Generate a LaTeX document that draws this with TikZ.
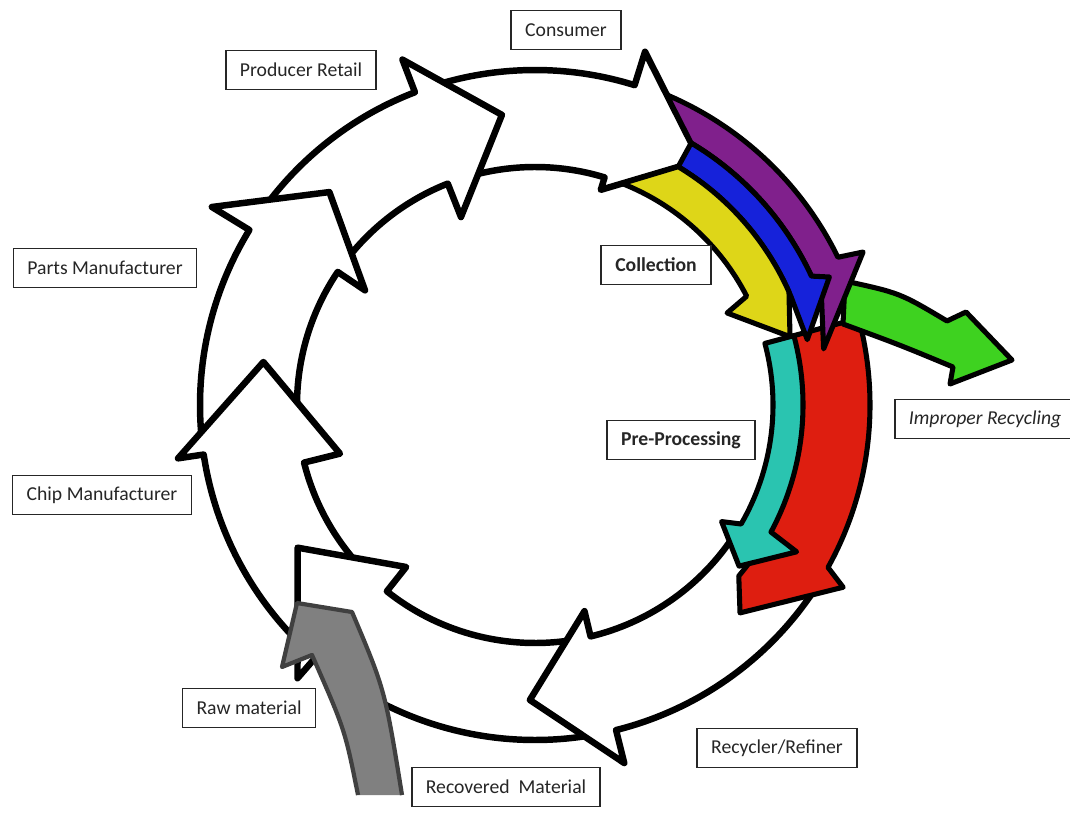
\documentclass[tikz,border=0pt]{standalone}
\usepackage{fontspec}
\setmainfont{Carlito}

\definecolor{collectpurple}{RGB}{128,32,140}
\definecolor{collectblue}{RGB}{22,34,218}
\definecolor{collectyellow}{RGB}{222,214,24}
\definecolor{refinered}{RGB}{222,30,16}
\definecolor{preteal}{RGB}{42,196,176}
\definecolor{impropergreen}{RGB}{62,210,32}

\tikzset{
  labelbox/.style={draw=black!85, line width=1.1pt, fill=white, text=black!85,
    inner xsep=10pt, minimum height=28pt, font=\fontsize{14}{16}\selectfont},
  ringline/.style={draw=black, line width=4.6pt, line join=round},
  paintarrow/.style={draw=black, line width=3.6pt, line join=round},
}

\begin{document}
\begin{tikzpicture}[x=0.025cm, y=-0.025cm]

  % Page frame
  \useasboundingbox (0,0) rectangle (1070,814);

  % Ring radii
  \def\Ro{335}
  \def\Ri{238}

  \begin{scope}[shift={(535,405)}]
    % White cycle arrows:
    % tail outer / tail inner / head base outer / head base inner / tip angle /
    % head outer r / head inner r / tip r
    \def\cyclearrows{30/35/76/76.5/91/369/212/295,
      81.5/82.5/131/128.5/149/362/207/277,
      135.2/140.2/171.5/166/189/361/201/275,
      175.3/180.7/211.5/214/226/379/205/296,
      217.8/219.6/249/248.5/263.5/370/202/292,
      254.2/256.2/287.3/287/304/370/225/295}
    \foreach \ta/\tb/\hbo/\hbi/\tp/\ho/\hn/\tr in \cyclearrows
      \fill[white] (\ta:\Ro) arc[start angle=\ta, end angle=\hbo, radius=\Ro]
        -- (\hbo:\ho) -- (\tp:\tr) -- (\hbi:\hn) -- (\hbi:\Ri)
        arc[start angle=\hbi, end angle=\tb, radius=\Ri] -- cycle;
    \foreach \ta/\tb/\hbo/\hbi/\tp/\ho/\hn/\tr in \cyclearrows
      \draw[ringline] (\ta:\Ro) arc[start angle=\ta, end angle=\hbo, radius=\Ro]
        -- (\hbo:\ho) -- (\tp:\tr) -- (\hbi:\hn) -- (\hbi:\Ri)
        arc[start angle=\hbi, end angle=\tb, radius=\Ri];

    % Refining (red) and pre-processing (teal)
    \draw[paintarrow, fill=refinered] (345:\Ro) arc[start angle=345, end angle=389, radius=\Ro]
      -- (390.6:358) -- (405.4:292) -- (400:266)
      arc[start angle=400, end angle=345, radius=266] -- cycle;
    \draw[paintarrow, fill=preteal] (345:268) arc[start angle=345, end angle=388.3, radius=268]
      -- (389.3:300) -- (398.3:260) -- (392:220) -- (390:\Ri)
      arc[start angle=390, end angle=345, radius=\Ri] -- cycle;
  \end{scope}

  % Improper recycling (green)
  \draw[paintarrow, fill=impropergreen] (845,281) .. controls (900,293) .. (947,321)
    -- (966,312) -- (1012,360) -- (950,384) -- (953,367)
    .. controls (900,345) .. (843,324) -- cycle;

  \begin{scope}[shift={(535,405)}]
    % Collection streams
    \draw[paintarrow, fill=collectpurple] (293:337) arc[start angle=293, end angle=334, radius=337]
      -- (335:362) -- (349:294) -- (340:305)
      arc[start angle=340, end angle=300.8, radius=305] -- cycle;
    \draw[paintarrow, fill=collectblue] (300.8:305) arc[start angle=300.8, end angle=335, radius=305]
      -- (336.5:321) -- (346.5:280) -- (337:278)
      arc[start angle=337, end angle=301, radius=278] -- cycle;
    \draw[paintarrow, fill=collectyellow] (301:278) arc[start angle=301, end angle=336, radius=278]
      -- (345:264) -- (334.4:213) -- (332.8:\Ri)
      arc[start angle=332.8, end angle=291.5, radius=\Ri] -- cycle;
  \end{scope}

  % Raw material feed (grey)
  \fill[black!50] (358,795) .. controls (345,730) .. (312,655) -- (282,667) -- (297,603)
    -- (352,612) .. controls (385,690) .. (402,795) -- cycle;
  \draw[black!75, line width=3pt, line join=round] (358,795) .. controls (345,730) .. (312,655)
    -- (282,667) -- (297,603) -- (352,612) .. controls (385,690) .. (402,795);

  % Stage labels
  \node[labelbox] (consumer) at (566,30) {Consumer};
  \node[labelbox] (producer) at (301,70) {Producer Retail};
  \node[labelbox] (parts) at (105,268) {Parts Manufacturer};
  \node[labelbox] (chip) at (102,495) {Chip Manufacturer};
  \node[labelbox] (raw) at (249,708) {Raw material};
  \node[labelbox] (recovered) at (506,787) {Recovered~ Material};
  \node[labelbox] (recycler) at (777,748) {Recycler/Refiner};
  \node[labelbox, anchor=west] (improper) at (894,419) {\itshape Improper Recycling};
  \node[labelbox, font=\fontsize{14}{16}\selectfont\bfseries] (preproc) at (681,440) {Pre-Processing};
  \node[labelbox, font=\fontsize{14}{16}\selectfont\bfseries] (collection) at (656,265) {Collection};

\end{tikzpicture}
\end{document}
